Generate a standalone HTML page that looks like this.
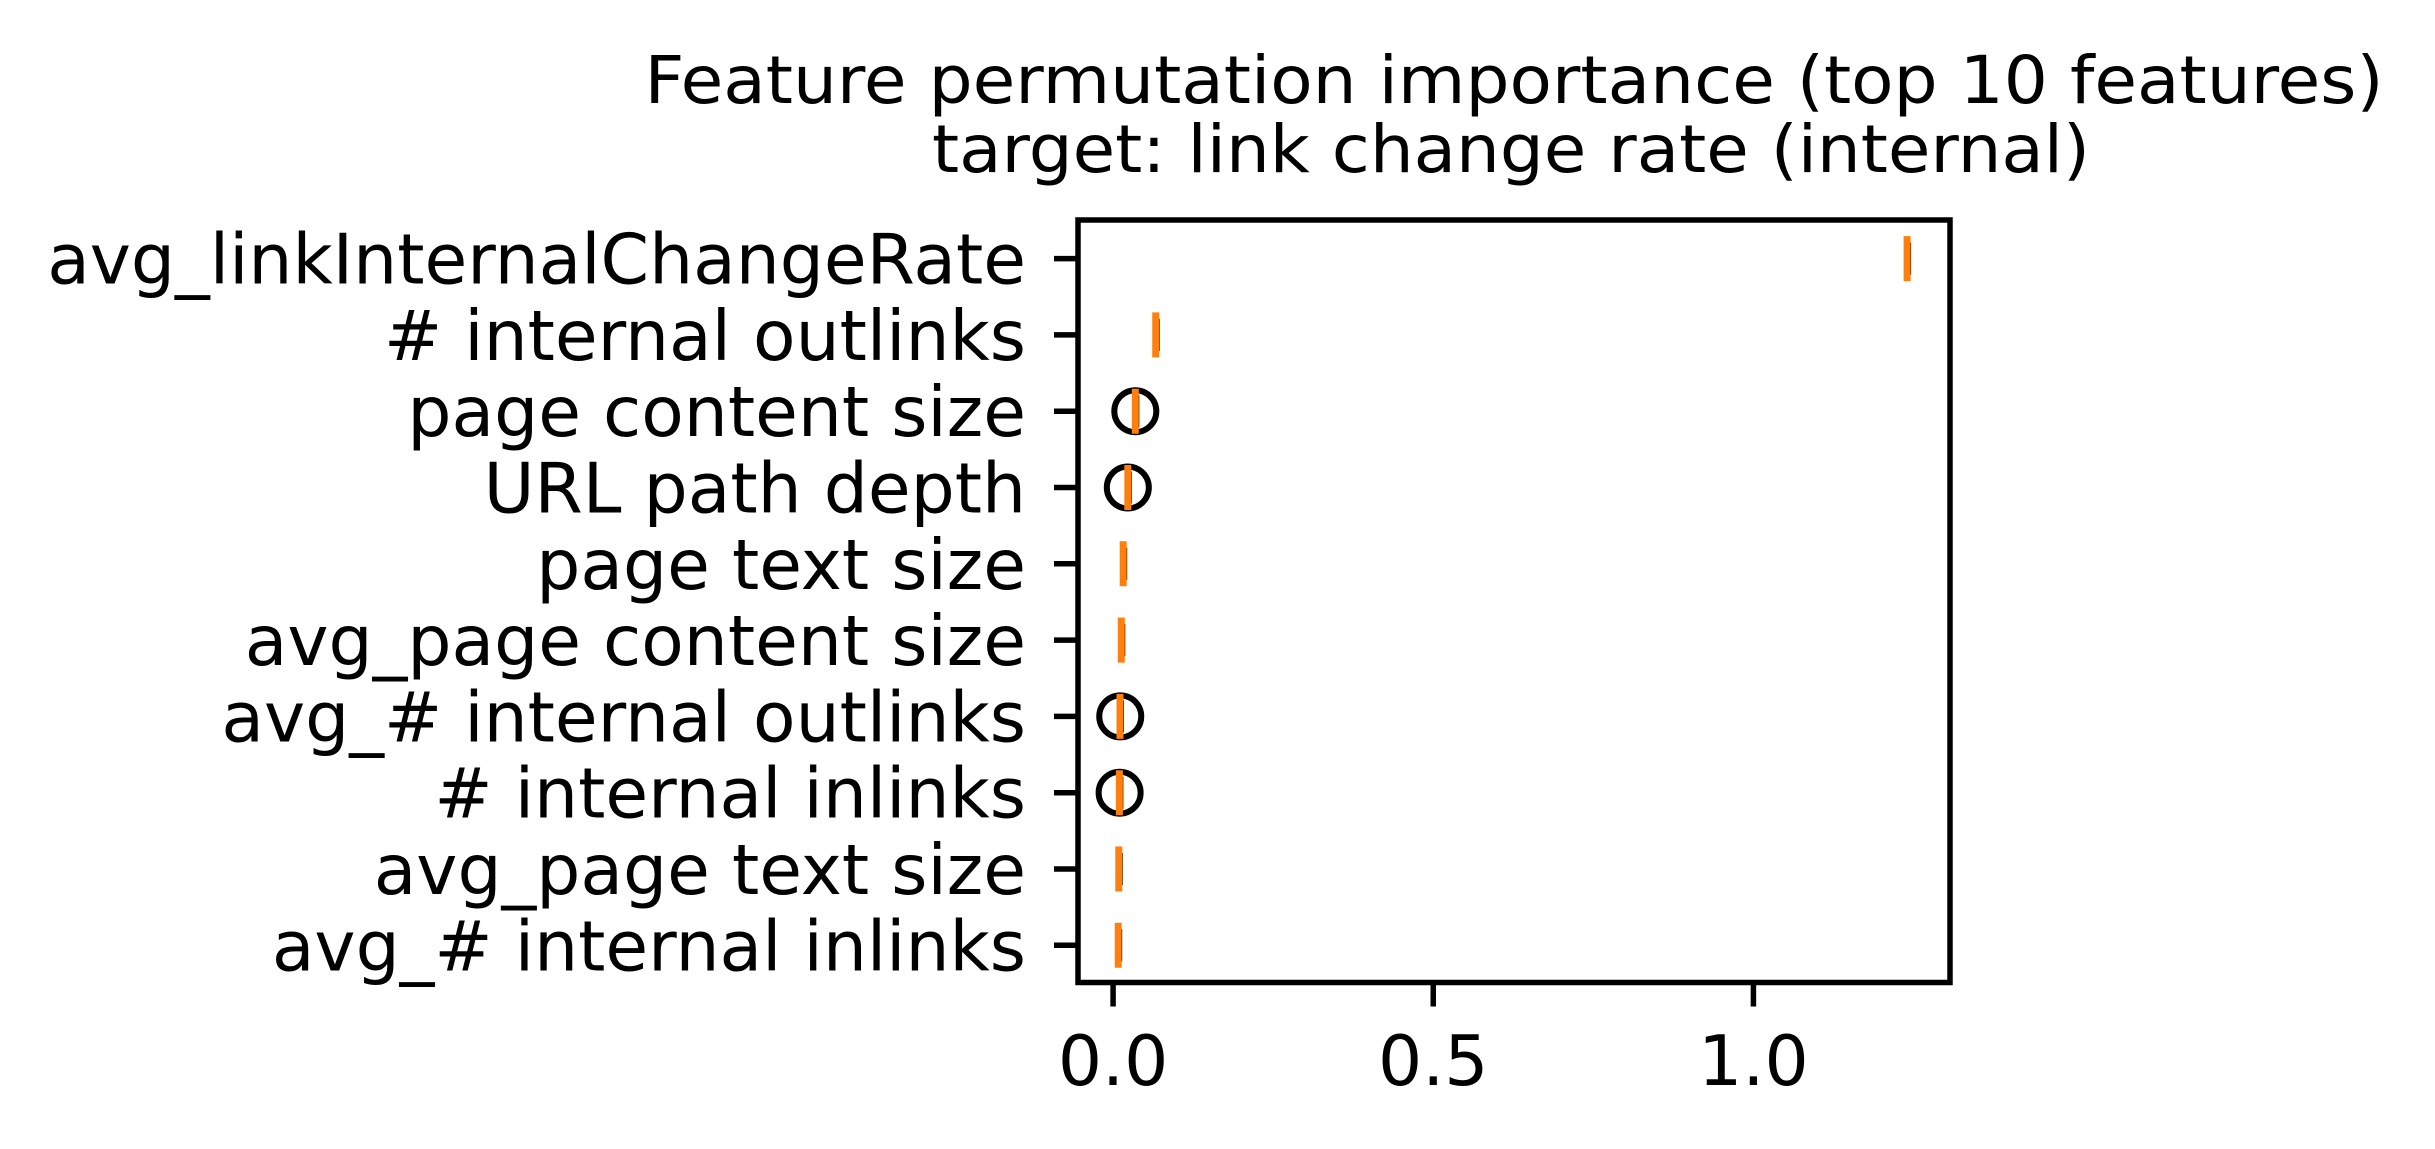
<!DOCTYPE html>
<html><head><meta charset="utf-8"><style>
html,body{margin:0;padding:0;background:#fff;}
svg{display:block;font-family:"DejaVu Sans","Liberation Sans",sans-serif;}
</style></head>
<body>
<svg id="chart" width="2435" height="1149" viewBox="0 0 2435 1149" xmlns="http://www.w3.org/2000/svg">
<rect width="2435" height="1149" fill="#fff"/>
<text x="1514" y="103" font-size="66" text-anchor="middle" textLength="1739" lengthAdjust="spacingAndGlyphs">Feature permutation importance (top 10 features)</text>
<text x="1511" y="172" font-size="66" text-anchor="middle" textLength="1158" lengthAdjust="spacingAndGlyphs">target: link change rate (internal)</text>
<g id="plot"></g>
</svg>
<script>
const features = ["avg_linkInternalChangeRate","# internal outlinks","page content size","URL path depth","page text size","avg_page content size","avg_# internal outlinks","# internal inlinks","avg_page text size","avg_# internal inlinks"];
const medians = [1.240,0.0666,0.0347,0.023,0.0158,0.0128,0.0108,0.0098,0.0089,0.008];
const outliers = [null,null,0.0347,0.023,null,null,0.0112,0.0102,null,null];
const xTicks = [0.0,0.5,1.0];
const xTickLabels = ["0.0","0.5","1.0"];

const NS="http://www.w3.org/2000/svg";
const L=1078,R=1950,T=220,B=982.5;
const xMin=-0.0548,xMax=1.307;
const yFirst=258.6,yStep=76.3;
function xs(v){return L+(v-xMin)/(xMax-xMin)*(R-L);}
function ys(i){return yFirst+i*yStep;}
const g=document.getElementById('plot');
function mk(tag,attrs){const e=document.createElementNS(NS,tag);for(const k in attrs)e.setAttribute(k,attrs[k]);g.appendChild(e);return e;}

features.forEach((f,i)=>{
  const y=ys(i);
  const t=mk('line',{x1:L-24,x2:L,y1:y,y2:y,stroke:'#000','stroke-width':5.5});
  
  
  const lb=mk('text',{x:L-52,y:y+25,'font-size':69.5,'text-anchor':'end'});
  lb.textContent=f;
  
  
  if(outliers[i]!==null){
    const c=mk('ellipse',{cx:xs(outliers[i]),cy:y,rx:21,ry:21,fill:'none',stroke:'#000','stroke-width':6});
    
    
  }
  const bx=mk('line',{x1:xs(medians[i])+3,x2:xs(medians[i])+3,y1:y-16,y2:y+16,stroke:'#000','stroke-width':2});
  
  
  const m=mk('line',{x1:xs(medians[i]),x2:xs(medians[i]),y1:y-22.5,y2:y+22.5,stroke:'#ff7f0e','stroke-width':7});
  
  
});
xTicks.forEach((v,i)=>{
  const x=xs(v);
  const t=mk('line',{x1:x,x2:x,y1:B,y2:B+24,stroke:'#000','stroke-width':5.5});
  
  
  const lb=mk('text',{x:x,y:1085,'font-size':69.5,'text-anchor':'middle'});
  lb.textContent=xTickLabels[i];
  
  
});
const fr=mk('rect',{x:L,y:T,width:R-L,height:B-T,fill:'none',stroke:'#000','stroke-width':5.5});


</script>
</body></html>
